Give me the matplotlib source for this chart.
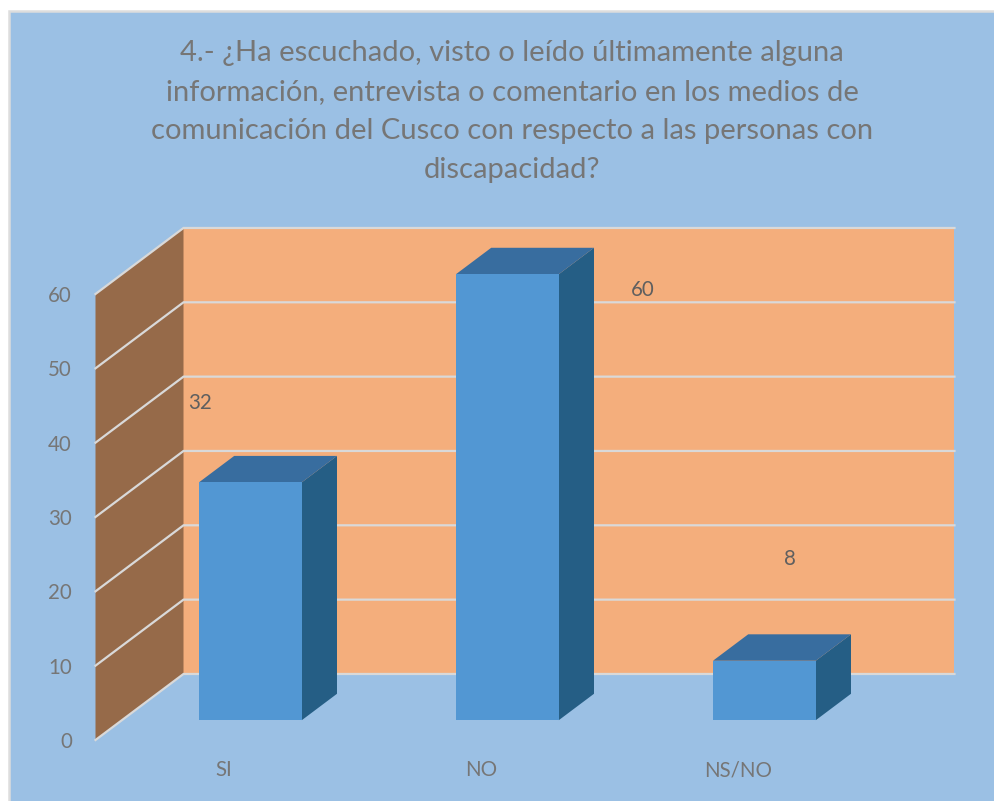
import matplotlib.pyplot as plt
from matplotlib.patches import Polygon, Rectangle

plt.rcParams['font.family'] = ['Lato', 'DejaVu Sans']

# Chart data
categories = ["SI", "NO", "NS/NO"]
values = [32, 60, 8]
y_ticks = [0, 10, 20, 30, 40, 50, 60]
title_text = ("4.- ¿Ha escuchado, visto o leído últimamente alguna\n"
              "información, entrevista o comentario en los medios de\n"
              "comunicación del Cusco con respecto a las personas con\n"
              "discapacidad?")

# Colours
PANEL = "#9BC0E4"
WALL = "#F4AE7C"
SIDE_WALL = "#966A49"
GRID = "#D9D9D9"
BAR_FRONT = "#5297D3"
BAR_TOP = "#386D9F"
BAR_SIDE = "#255E85"
TEXT = "#767676"
LABEL_TEXT = "#5F5F5F"

W, H = 995, 801

# Size of the oblique depth axis, in axis units (one category = 257 px, one y unit = 7.43 px)
DEPTH_X = 88 / 257
DEPTH_Y = 66 / 7.43
BAR_WIDTH = 0.4
BAR_DEPTH_START = 0.3
BAR_DEPTH_END = 0.7

# Manual data label shift from the top of each bar, in pixels
label_shifts = [(-50, 79), (135, -16), (26, 102)]


def project(x, y, depth):
    """Front plane coordinates of a point placed at a given depth (0 front, 1 back)."""
    return (x + depth * DEPTH_X, y + depth * DEPTH_Y)


fig = plt.figure(figsize=(W / 100, H / 100), dpi=100, facecolor="white")

# Chart area, the border only shows on the top and left sides
fig.add_artist(Rectangle((9 / W, -0.01), 1.0, (H - 11) / H + 0.01, transform=fig.transFigure,
                         facecolor=PANEL, edgecolor="#DDDDDD", linewidth=1.8, zorder=-1))

ax = fig.add_axes([95.5 / W, (H - 740) / H, 771 / W, 446 / H])
ax.set_xlim(-0.5, 2.5)
ax.set_ylim(0, 60)
ax.patch.set_visible(False)
for spine in ax.spines.values():
    spine.set_visible(False)

x_left, x_right = ax.get_xlim()
y_low, y_high = ax.get_ylim()

# Back wall and side wall
ax.add_patch(Polygon([project(x_left, y_low, 1), project(x_right, y_low, 1),
                      project(x_right, y_high, 1), project(x_left, y_high, 1)],
                     facecolor=WALL, edgecolor="none", clip_on=False, zorder=1))
ax.add_patch(Polygon([project(x_left, y_low, 0), project(x_left, y_low, 1),
                      project(x_left, y_high, 1), project(x_left, y_high, 0)],
                     facecolor=SIDE_WALL, edgecolor="none", clip_on=False, zorder=1))

# Gridlines run along the side wall and then across the back wall
for tick in y_ticks:
    corner = project(x_left, tick, 1)
    front = project(x_left, tick, 0)
    back_end = project(x_right, tick, 1)
    ax.plot([front[0], corner[0], back_end[0]], [front[1], corner[1], back_end[1]],
            color=GRID, linewidth=1.6, clip_on=False, zorder=2, solid_joinstyle="miter")

# Bars
for i, value in enumerate(values):
    x0 = i - BAR_WIDTH / 2
    x1 = i + BAR_WIDTH / 2
    d0 = BAR_DEPTH_START
    d1 = BAR_DEPTH_END
    ax.add_patch(Polygon([project(x1, 0, d0), project(x1, 0, d1),
                          project(x1, value, d1), project(x1, value, d0)],
                         facecolor=BAR_SIDE, edgecolor="none", clip_on=False, zorder=3))
    ax.add_patch(Polygon([project(x0, value, d0), project(x1, value, d0),
                          project(x1, value, d1), project(x0, value, d1)],
                         facecolor=BAR_TOP, edgecolor="none", clip_on=False, zorder=3))
    ax.add_patch(Polygon([project(x0, 0, d0), project(x1, 0, d0),
                          project(x1, value, d0), project(x0, value, d0)],
                         facecolor=BAR_FRONT, edgecolor="none", clip_on=False, zorder=4))
    # Data label
    dx, dy = label_shifts[i]
    ax.annotate(str(value), xy=project(i, value, d0), xytext=(dx * 0.72, dy * 0.72),
                textcoords="offset points", ha="center", va="center",
                fontsize=14.8, color=LABEL_TEXT, zorder=5, annotation_clip=False)

ax.set_yticks(y_ticks)
ax.set_xticks(range(len(categories)))
ax.set_xticklabels(categories)
ax.tick_params(axis="y", length=0, pad=17, labelsize=14.8, labelcolor=TEXT)
ax.tick_params(axis="x", length=0, pad=14.6, labelsize=14.8, labelcolor=TEXT)

fig.text(512 / W, (H - 111.5) / H, title_text, ha="center", va="center",
         fontsize=21, color=TEXT, linespacing=1.62)

plt.savefig("out.png", dpi=100)
plt.close()
